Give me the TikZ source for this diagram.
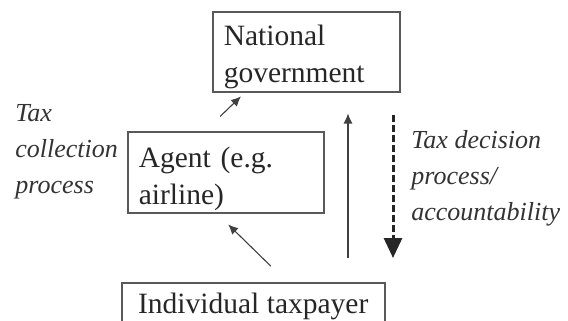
\documentclass[tikz,border=0pt]{standalone}
\usepackage{fontspec}
\setmainfont{Liberation Serif}
\usetikzlibrary{positioning,calc,arrows.meta}
\newcommand{\boxfont}{\fontsize{14.75}{18.5}\selectfont}
\newcommand{\lblfont}{\fontsize{13}{18}\selectfont\itshape}

\begin{document}
\begin{tikzpicture}[x=0.5pt,y=-0.5pt,
		box/.style={draw=black!65, line width=0.75pt, text=black!85, font=\boxfont, inner ysep=0pt},
		lbl/.style={text=black!80, font=\lblfont, align=left, inner sep=0pt, anchor=base west},
		thin/.style={draw=black!75, line width=0.55pt, -{Latex[length=5pt,width=4.5pt]}},
		thick/.style={draw=black!85, line width=1.5pt, dash pattern=on 3.5pt off 1.5pt, -{Triangle[length=10pt,width=9pt]}}]
		\useasboundingbox (0,0) rectangle (568,321);
		\clip (0,0) rectangle (568,321);
		\node [box, anchor=north west, text width=82.5pt, inner xsep=5.5pt, align=left, text height=17pt, text depth=23pt] (gov) at (212,11) {National\\government};
		\node [box, anchor=north west, text width=87pt, inner xsep=5.5pt, align=left, text height=18pt, text depth=22.5pt] (agent) at (127,131) {Agent (e.g.\\airline)};
		\node [box, anchor=north west, minimum width=131.5pt, text height=15.5pt, text depth=8.5pt] (payer) at (121,282) {Individual taxpayer};
		\node [lbl] (collect) at (15,193) {Tax\\collection\\process};
		\node [lbl] (decide) at (411,220) {Tax decision\\process/\\accountability};
		\draw [thin, shorten <=10.5pt, shorten >=2.8pt] ($(agent.north west)+(78,0)$) -- ($(gov.south west)+(33,0)$);
		\draw [thin, shorten <=11.3pt, shorten >=7.8pt] ($(payer.north west)+(166,0)$) -- ($(agent.south west)+(90,0)$);
		\draw [thin, shorten <=12pt, shorten >=10.5pt] ($(payer.north west)+(227,0)$) -- ($(gov.south west)+(136,0)$);
		\coordinate (top) at ($(gov.south west)+(181,0)$);
		\draw [thick, shorten <=11pt, shorten >=12pt] (top) -- (top |- payer.north);
		\end{tikzpicture}
\end{document}
